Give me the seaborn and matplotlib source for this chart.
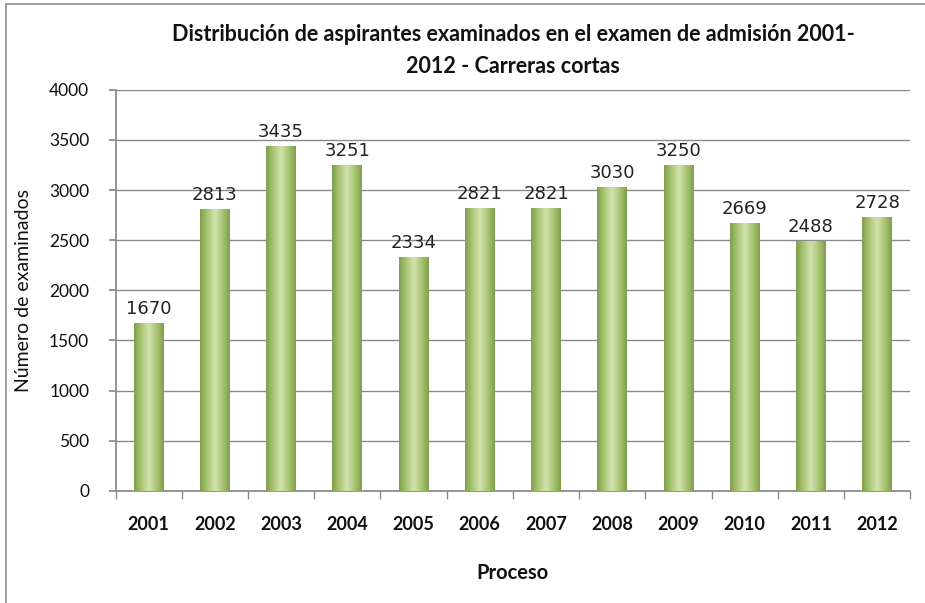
import numpy as np
import matplotlib
matplotlib.use("Agg")
import matplotlib.pyplot as plt
import seaborn as sns
from matplotlib.colors import LinearSegmentedColormap
from matplotlib.patches import Rectangle

years = ["2001", "2002", "2003", "2004", "2005", "2006",
         "2007", "2008", "2009", "2010", "2011", "2012"]
examinados = [1670, 2813, 3435, 3251, 2334, 2821, 2821, 3030, 3250, 2669, 2488, 2728]

sns.set_theme(style="white")
plt.rcParams['font.family'] = ['Lato', 'DejaVu Sans']

fig = plt.figure(figsize=(9.25, 6.03), dpi=100)
ax = fig.add_axes([0.125, 0.186, 0.859, 0.665])

# chart frame
fig.patches.append(Rectangle((0.007, -0.01), 1.2, 1.003, transform=fig.transFigure,
                             fill=False, edgecolor="#8c8c8c", linewidth=1.2))

sns.barplot(x=years, y=examinados, ax=ax, color="#9bbb59", width=0.45,
            saturation=1, zorder=3)

# cylinder-like shading
cmap = LinearSegmentedColormap.from_list(
    "g", ["#7f9e4c", "#a9c674", "#d2e3b0", "#a9c674", "#7f9e4c"])
grad = np.linspace(0, 1, 256).reshape(1, -1)
for bar in ax.patches:
    x0, y0 = bar.get_x(), bar.get_y()
    w, h = bar.get_width(), bar.get_height()
    im = ax.imshow(grad, cmap=cmap, aspect="auto", extent=(x0, x0 + w, y0, y0 + h),
                   zorder=4)
    im.set_clip_path(bar)
    bar.set_edgecolor("none")

ax.set_xlim(-0.5, len(years) - 0.5)
for i, v in enumerate(examinados):
    ax.text(i, v + 50, str(v), ha="center", va="bottom", fontsize=13,
            family="DejaVu Sans", color="#222222", zorder=5)

ax.set_ylim(0, 4000)
ax.set_yticks(range(0, 4001, 500))
ax.yaxis.grid(True, color="#8a8a8a", linewidth=1.0, zorder=0)
ax.set_axisbelow(True)
for s in ["top", "right"]:
    ax.spines[s].set_visible(False)
ax.spines["left"].set_color("#8a8a8a")
ax.spines["bottom"].set_color("#8a8a8a")

ax.tick_params(axis="y", left=True, length=5, color="#8a8a8a", labelsize=12.5,
               pad=14, labelcolor="#111111")
ax.set_xticks(range(len(years)))
ax.set_xticklabels(years, fontsize=13, fontweight="bold", color="#111111")
ax.set_xticks(np.arange(-0.5, len(years), 1), minor=True)
ax.tick_params(axis="x", which="major", bottom=False, pad=12)
ax.tick_params(axis="x", which="minor", bottom=True, length=6, color="#8a8a8a")

ax.set_xlabel("Proceso", fontsize=14.5, fontweight="bold", labelpad=22, color="#111111")
ax.set_ylabel("Número de examinados", fontsize=14, labelpad=12, color="#111111")
ax.set_title("Distribución de aspirantes examinados en el examen de admisión 2001-\n"
             "2012 - Carreras cortas", fontsize=15.5, fontweight="bold",
             linespacing=1.65, pad=12, color="#111111")

fig.savefig("out.png", dpi=100)
